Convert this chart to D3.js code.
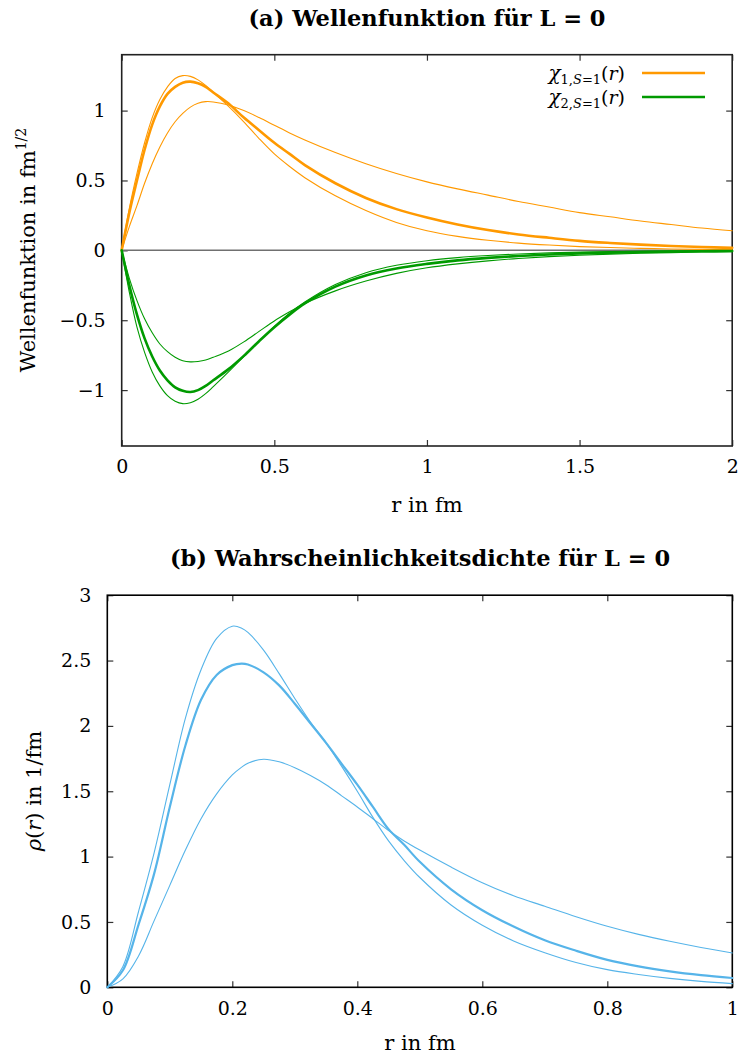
<!DOCTYPE html>
<html>
<head>
<meta charset="utf-8">
<script src="https://cdn.jsdelivr.net/npm/d3@7"></script>
<style>
  html, body { margin: 0; padding: 0; background: #ffffff; }
  svg { display: block; }
</style>
</head>
<body>
<svg id="chart" width="739" height="1059"></svg>
<script>
// ---------- Data ----------
// Panel (a): radial grid in fm
const rWave = [0, 0.025, 0.05, 0.075, 0.1, 0.125, 0.15, 0.175, 0.2, 0.225, 0.25, 0.275, 0.3, 0.35, 0.4, 0.45, 0.5, 0.55, 0.6, 0.7, 0.8, 0.9, 1.0, 1.1, 1.2, 1.3, 1.4, 1.5, 1.6, 1.7, 1.8, 1.9, 2.0];

// chi_1 (orange): thin narrow variant, thick central, thin broad variant
const chi1Narrow = [0, 0.30, 0.55, 0.77, 0.95, 1.08, 1.17, 1.23, 1.25, 1.245, 1.22, 1.18, 1.13, 1.03, 0.92, 0.80, 0.69, 0.60, 0.52, 0.39, 0.285, 0.20, 0.14, 0.10, 0.072, 0.052, 0.038, 0.027, 0.020, 0.014, 0.010, 0.007, 0.005];
const chi1Central = [0, 0.27, 0.50, 0.72, 0.90, 1.03, 1.12, 1.17, 1.20, 1.207, 1.195, 1.17, 1.13, 1.05, 0.95, 0.86, 0.77, 0.69, 0.61, 0.48, 0.375, 0.295, 0.235, 0.185, 0.145, 0.114, 0.09, 0.068, 0.053, 0.041, 0.031, 0.024, 0.018];
const chi1Broad = [0, 0.17, 0.32, 0.48, 0.62, 0.74, 0.84, 0.92, 0.98, 1.025, 1.052, 1.064, 1.062, 1.04, 1.0, 0.95, 0.895, 0.84, 0.79, 0.70, 0.62, 0.55, 0.49, 0.44, 0.395, 0.35, 0.31, 0.27, 0.24, 0.21, 0.185, 0.16, 0.14];

// chi_2 (green): thin shallow variant, thick central, thin deep variant
const chi2Shallow = [0, -0.20, -0.36, -0.49, -0.59, -0.67, -0.725, -0.765, -0.79, -0.798, -0.795, -0.785, -0.765, -0.72, -0.655, -0.58, -0.505, -0.44, -0.38, -0.29, -0.22, -0.165, -0.125, -0.097, -0.075, -0.058, -0.045, -0.035, -0.027, -0.021, -0.016, -0.012, -0.009];
const chi2Central = [0, -0.25, -0.46, -0.63, -0.76, -0.86, -0.93, -0.98, -1.005, -1.014, -1.0, -0.97, -0.93, -0.85, -0.755, -0.65, -0.55, -0.46, -0.38, -0.26, -0.18, -0.13, -0.097, -0.072, -0.054, -0.04, -0.03, -0.022, -0.016, -0.012, -0.009, -0.006, -0.005];
const chi2Deep = [0, -0.30, -0.55, -0.73, -0.87, -0.97, -1.04, -1.08, -1.097, -1.09, -1.065, -1.025, -0.975, -0.87, -0.76, -0.65, -0.545, -0.45, -0.37, -0.245, -0.16, -0.107, -0.074, -0.052, -0.037, -0.026, -0.018, -0.013, -0.009, -0.006, -0.004, -0.003, -0.002];

// Panel (b): density
const rDens = [0, 0.025, 0.05, 0.075, 0.1, 0.125, 0.15, 0.175, 0.2, 0.215, 0.225, 0.25, 0.275, 0.3, 0.325, 0.35, 0.375, 0.4, 0.425, 0.45, 0.475, 0.5, 0.55, 0.6, 0.65, 0.7, 0.75, 0.8, 0.85, 0.9, 0.95, 1.0];
const rhoTall = [0, 0.16, 0.58, 1.03, 1.55, 2.06, 2.43, 2.67, 2.763, 2.748, 2.715, 2.58, 2.40, 2.21, 2.03, 1.87, 1.69, 1.50, 1.30, 1.12, 0.97, 0.84, 0.63, 0.475, 0.355, 0.265, 0.19, 0.135, 0.098, 0.068, 0.045, 0.028];
const rhoCentral = [0, 0.13, 0.48, 0.87, 1.38, 1.85, 2.20, 2.39, 2.465, 2.477, 2.47, 2.41, 2.31, 2.17, 2.02, 1.87, 1.71, 1.55, 1.38, 1.21, 1.09, 0.96, 0.75, 0.59, 0.465, 0.36, 0.28, 0.21, 0.16, 0.122, 0.093, 0.071];
const rhoLow = [0, 0.065, 0.24, 0.51, 0.78, 1.05, 1.29, 1.48, 1.625, 1.685, 1.715, 1.745, 1.725, 1.68, 1.62, 1.55, 1.465, 1.38, 1.29, 1.20, 1.12, 1.05, 0.92, 0.80, 0.70, 0.62, 0.54, 0.467, 0.405, 0.352, 0.305, 0.263];

// Tick labels
const xTicksA = [0, 0.5, 1, 1.5, 2];
const yTicksA = [-1, -0.5, 0, 0.5, 1];
const xTicksB = [0, 0.2, 0.4, 0.6, 0.8, 1];
const yTicksB = [0, 0.5, 1, 1.5, 2, 2.5, 3];

// ---------- Styling ----------
const ORANGE = "#ff9900";
const GREEN = "#009a00";
const BLUE = "#56b4e9";
const THIN = 1.1, THICK = 2.6;
const SERIF = "DejaVu Serif";
const TICKFONT = 19, LABELFONT = 21, TITLEFONT = 22.5;

const svg = d3.select("#chart");
const minus = s => String(s).replace("-", "\u2212");

function txt(sel) { return sel.attr("font-family", SERIF).attr("fill", "#000"); }

function panel(opt) {
  const x = d3.scaleLinear().domain(opt.xDomain).range([opt.left, opt.right]);
  const y = d3.scaleLinear().domain(opt.yDomain).range([opt.bottom, opt.top]);
  const g = svg.append("g");
  const tickLen = 6;
  const styleTicks = a => {
    a.attr("font-family", SERIF).attr("font-size", TICKFONT);
    a.select(".domain").remove();
    a.selectAll("text").attr("fill", "#000");
    a.selectAll("line").attr("stroke", opt.tickColor).attr("stroke-width", 1.2);
  };
  const fmt = v => minus(v);
  g.append("g").attr("transform", `translate(0,${opt.bottom})`)
    .call(d3.axisBottom(x).tickValues(opt.xTicks).tickFormat(fmt).tickSize(-tickLen).tickPadding(14))
    .call(styleTicks);
  g.append("g").attr("transform", `translate(0,${opt.top})`)
    .call(d3.axisTop(x).tickValues(opt.xTicks).tickFormat("").tickSize(-tickLen))
    .call(styleTicks);
  g.append("g").attr("transform", `translate(${opt.left},0)`)
    .call(d3.axisLeft(y).tickValues(opt.yTicks).tickFormat(fmt).tickSize(-tickLen).tickPadding(16))
    .call(styleTicks);
  g.append("g").attr("transform", `translate(${opt.right},0)`)
    .call(d3.axisRight(y).tickValues(opt.yTicks).tickFormat("").tickSize(-tickLen))
    .call(styleTicks);

  g.append("rect").attr("x", opt.left).attr("y", opt.top)
    .attr("width", opt.right - opt.left).attr("height", opt.bottom - opt.top)
    .attr("fill", "none").attr("stroke", opt.frameColor).attr("stroke-width", 1.6);

  return { x, y, g };
}

function drawLine(p, xs, ys, color, width) {
  const line = d3.line().x((d, i) => p.x(xs[i])).y(d => p.y(d)).curve(d3.curveCatmullRom.alpha(0.5));
  p.g.append("path").datum(ys).attr("d", line)
    .attr("fill", "none").attr("stroke", color).attr("stroke-width", width)
    .attr("stroke-linejoin", "round").attr("stroke-linecap", "round");
}

// ---------- Panel (a) ----------
const pA = panel({
  left: 121.7, right: 732.2, top: 54.7, bottom: 446,
  xDomain: [0, 2], yDomain: [-1.4, 1.4],
  xTicks: xTicksA, yTicks: yTicksA, tickColor: "#333", frameColor: "#222"
});
pA.g.append("line").attr("x1", pA.x(0)).attr("x2", pA.x(2)).attr("y1", pA.y(0)).attr("y2", pA.y(0))
  .attr("stroke", "#707070").attr("stroke-width", 1.5);

drawLine(pA, rWave, chi1Narrow, ORANGE, THIN);
drawLine(pA, rWave, chi1Broad, ORANGE, THIN);
drawLine(pA, rWave, chi1Central, ORANGE, THICK);
drawLine(pA, rWave, chi2Shallow, GREEN, THIN);
drawLine(pA, rWave, chi2Deep, GREEN, THIN);
drawLine(pA, rWave, chi2Central, GREEN, THICK);

txt(svg.append("text")).attr("x", 427).attr("y", 26).attr("text-anchor", "middle")
  .attr("font-size", TITLEFONT).attr("font-weight", "bold").text("(a) Wellenfunktion für L = 0");
txt(svg.append("text")).attr("x", 427).attr("y", 512).attr("text-anchor", "middle")
  .attr("font-size", LABELFONT).text("r in fm");
const yla = txt(svg.append("text")).attr("transform", "translate(35,250) rotate(-90)")
  .attr("text-anchor", "middle").attr("font-size", LABELFONT);
yla.append("tspan").text("Wellenfunktion in fm");
yla.append("tspan").attr("font-size", 14).attr("dy", -9).text("1/2");

// legend
const legendItems = [{ n: "1", c: ORANGE }, { n: "2", c: GREEN }];
legendItems.forEach((d, i) => {
  const yy = 80 + i * 24;
  const t = txt(svg.append("text")).attr("x", 625).attr("y", yy).attr("text-anchor", "end").attr("font-size", 19);
  t.append("tspan").attr("font-style", "italic").attr("font-size", 20).text("\u03c7");
  t.append("tspan").attr("font-size", 13).attr("dy", 4).text(d.n + ",");
  t.append("tspan").attr("font-size", 13).attr("font-style", "italic").text("S");
  t.append("tspan").attr("font-size", 13).text("=1");
  t.append("tspan").attr("dy", -4).text("(");
  t.append("tspan").attr("font-style", "italic").text("r");
  t.append("tspan").text(")");
  svg.append("line").attr("x1", 642).attr("x2", 705).attr("y1", yy - 7).attr("y2", yy - 7)
    .attr("stroke", d.c).attr("stroke-width", THICK);
});

// ---------- Panel (b) ----------
const pB = panel({
  left: 107.3, right: 732.3, top: 595.2, bottom: 987.3,
  xDomain: [0, 1], yDomain: [0, 3],
  xTicks: xTicksB, yTicks: yTicksB, tickColor: "#333", frameColor: "#000"
});
drawLine(pB, rDens, rhoTall, BLUE, THIN);
drawLine(pB, rDens, rhoLow, BLUE, THIN);
drawLine(pB, rDens, rhoCentral, BLUE, THICK - 0.4);

txt(svg.append("text")).attr("x", 420).attr("y", 566).attr("text-anchor", "middle")
  .attr("font-size", TITLEFONT).attr("font-weight", "bold").text("(b) Wahrscheinlichkeitsdichte für L = 0");
txt(svg.append("text")).attr("x", 420).attr("y", 1050).attr("text-anchor", "middle")
  .attr("font-size", LABELFONT).text("r in fm");
const ylb = txt(svg.append("text")).attr("transform", "translate(41,791) rotate(-90)")
  .attr("text-anchor", "middle").attr("font-size", LABELFONT);
ylb.append("tspan").attr("font-style", "italic").text("\u03c1");
ylb.append("tspan").text("(");
ylb.append("tspan").attr("font-style", "italic").text("r");
ylb.append("tspan").text(") in 1/fm");
</script>
</body>
</html>
